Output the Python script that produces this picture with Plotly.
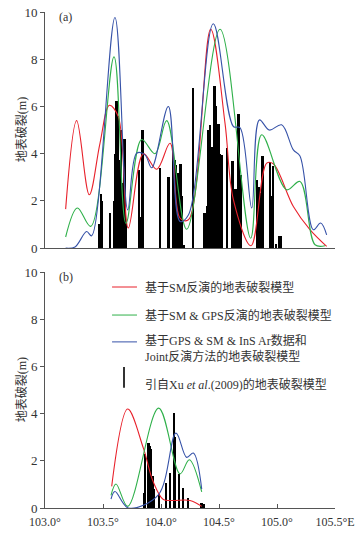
import plotly.graph_objects as go
from plotly.subplots import make_subplots

# panel (a): model curves (longitude, slip in m)
red_a_x = [103.178, 103.273, 103.382, 103.474, 103.555, 103.632, 103.718, 103.848, 103.963, 104.078,
           104.164, 104.236, 104.428, 104.552, 104.624, 104.776, 104.911, 104.968, 105.141, 105.284, 105.428]
red_a_y = [1.65, 5.40, 2.26, 4.44, 6.05, 5.57, 0.85, 4.00, 3.34, 4.44,
           1.27, 1.20, 9.27, 5.28, 2.05, 0.10, 3.60, 3.57, 1.76, 0.78, 0.07]

green_a_x = [103.178, 103.279, 103.394, 103.595, 103.698, 103.833, 103.948, 104.049, 104.221, 104.509,
             104.773, 104.868, 105.083, 105.198, 105.328, 105.414]
green_a_y = [0.47, 1.70, 0.92, 8.10, 1.05, 4.60, 4.00, 5.40, 0.80, 9.27,
             0.42, 4.80, 2.47, 2.82, 0.14, 0.10]

blue_a_x = [103.178, 103.259, 103.359, 103.402, 103.603, 103.713, 103.790, 103.862, 103.920, 104.063,
            104.164, 104.236, 104.451, 104.624, 104.681, 104.782, 104.848, 104.934, 105.040, 105.141,
            105.198, 105.313, 105.376, 105.428]
blue_a_y = [0.0, 0.05, 0.70, 0.52, 9.77, 1.62, 4.02, 3.95, 3.40, 6.00,
            1.13, 1.40, 9.50, 5.15, 5.10, 1.70, 5.43, 5.00, 5.22, 4.16,
            3.90, 0.78, 1.06, 0.56]

# panel (a): Xu et al. (2009) field measurements
xu_a_x = [103.468, 103.483, 103.491, 103.560, 103.595, 103.606, 103.618, 103.632, 103.647, 103.658,
          103.670, 103.687, 103.698, 103.813, 103.830, 103.842, 103.991, 104.066, 104.106, 104.118,
          104.129, 104.152, 104.170, 104.181, 104.201, 104.279, 104.376, 104.399, 104.411, 104.422,
          104.434, 104.445, 104.463, 104.474, 104.486, 104.497, 104.509, 104.526, 104.572, 104.618,
          104.635, 104.647, 104.670, 104.687, 104.830, 104.842, 104.853, 104.876, 104.940, 104.951,
          104.968, 104.991, 105.020, 105.032]
xu_a_y = [1.0, 2.3, 2.0, 1.5, 2.0, 4.0, 6.23, 5.6, 3.75, 5.0,
          2.75, 4.6, 1.05, 3.3, 1.3, 5.0, 3.4, 3.0, 4.1, 3.75,
          3.5, 3.2, 3.57, 2.2, 0.15, 6.77, 1.5, 1.8, 5.0, 5.2,
          4.3, 4.3, 6.87, 6.0, 5.15, 5.26, 4.0, 3.95, 4.23, 3.7,
          2.5, 2.5, 5.67, 3.1, 2.9, 2.6, 2.33, 3.9, 3.64, 2.2,
          3.46, 0.18, 0.52, 0.52]

# panel (b)
red_b_x = [103.575, 103.713, 103.848, 103.934, 104.020, 104.100, 104.250, 104.351]
red_b_y = [0.92, 4.20, 2.54, 1.10, 0.36, 0.32, 0.32, 0.07]

green_b_x = [103.569, 103.612, 103.713, 103.980, 104.164, 104.244, 104.351]
green_b_y = [0.54, 1.02, 0.07, 4.24, 1.45, 2.05, 0.68]

blue_b_x = [103.569, 103.603, 103.718, 103.977, 104.129, 104.221, 104.279, 104.351]
blue_b_y = [0.38, 0.70, 0.00, 0.56, 3.18, 2.15, 2.33, 0.80]

xu_b_x = [103.853, 103.865, 103.894, 103.905, 103.917, 103.928, 103.940, 103.985, 104.043, 104.078,
          104.115, 104.125, 104.158, 104.192, 104.235, 104.351, 104.371]
xu_b_y = [0.63, 2.26, 2.75, 2.6, 2.5, 1.34, 0.8, 0.56, 1.06, 1.48,
          4.02, 3.0, 1.41, 0.85, 0.42, 0.21, 0.17]

tick_vals = [103.0, 103.5, 104.0, 104.5, 105.0, 105.5]
tick_text = ['103.0°', '103.5°', '104.0°', '104.5°', '105.0°', '105.5°E']

RED = '#e8212b'
GREEN = '#2fb04a'
BLUE = '#3652a8'
AXIS = '#555555'
FONT = 'Liberation Serif, Noto Sans CJK SC, serif'

fig = make_subplots(rows=2, cols=1, vertical_spacing=0.05)

for row, (rx, ry, gx, gy, bx, by, kx, ky) in enumerate([
        (red_a_x, red_a_y, green_a_x, green_a_y, blue_a_x, blue_a_y, xu_a_x, xu_a_y),
        (red_b_x, red_b_y, green_b_x, green_b_y, blue_b_x, blue_b_y, xu_b_x, xu_b_y)], start=1):
    fig.add_trace(go.Bar(x=kx, y=ky, width=0.016, marker=dict(color='black', line_width=0),
                         showlegend=False), row=row, col=1)
    for xs, ys, c in [(rx, ry, RED), (gx, gy, GREEN), (bx, by, BLUE)]:
        fig.add_trace(go.Scatter(x=xs, y=ys, mode='lines', line=dict(color=c, width=1.1, shape='spline', smoothing=1),
                                 showlegend=False), row=row, col=1)

fig.update_layout(
    width=363, height=541,
    margin=dict(l=45, r=28, t=12, b=33, autoexpand=False),
    plot_bgcolor='white', paper_bgcolor='white',
    barmode='overlay', bargap=0,
    font=dict(family=FONT, size=12, color='#333333'),
)

fig.update_layout(
    yaxis=dict(domain=[0.524, 1.0]),
    yaxis2=dict(domain=[0.0, 0.475]),
)

for ax in ['xaxis', 'xaxis2']:
    fig.layout[ax].update(range=[103.0, 105.5], showgrid=False, zeroline=False, automargin=False,
                          showline=True, linecolor=AXIS, linewidth=1,
                          ticks='inside', ticklen=4, tickcolor=AXIS,
                          tickvals=tick_vals, ticktext=tick_text)
fig.layout.xaxis.update(tickvals=[105.5], showticklabels=False)
fig.layout.xaxis2.update(tickfont=dict(size=12), ticklabelstandoff=3)

for ax in ['yaxis', 'yaxis2']:
    fig.layout[ax].update(range=[0, 10], showgrid=False, zeroline=False, automargin=False,
                          showline=True, linecolor=AXIS, linewidth=1,
                          ticks='outside', ticklen=4, tickcolor=AXIS,
                          tickvals=[0, 2, 4, 6, 8, 10], tickfont=dict(size=13))

# y titles and panel labels
for yref, yc, lab in [('y', 5, '(a)'), ('y2', 5, '(b)')]:
    fig.add_annotation(xref='paper', yref=yref, x=-0.115, y=yc, text='地表破裂(m)', textangle=-90,
                       showarrow=False, font=dict(size=12, color='#333333'))
    fig.add_annotation(xref='x' if yref == 'y' else 'x2', yref=yref, x=103.1, y=9.8, text=lab,
                       xanchor='left', showarrow=False, font=dict(size=12, color='#333333'))

# legend drawn inside panel (b)
leg = [(9.38, RED, '基于SM反演的地表破裂模型'),
       (8.19, GREEN, '基于SM &amp; GPS反演的地表破裂模型'),
       (7.05, BLUE, None)]
for yv, c, txt in leg:
    fig.add_shape(type='line', xref='x2', yref='y2', x0=103.578, x1=103.793, y0=yv, y1=yv,
                  line=dict(color=c, width=1))
    if txt:
        fig.add_annotation(xref='x2', yref='y2', x=103.845, y=yv, text=txt, xanchor='left',
                           showarrow=False, font=dict(size=12, color='#333333'))
fig.add_annotation(xref='x2', yref='y2', x=103.845, y=6.77,
                   text='基于GPS &amp; SM &amp; InS Ar数据和<br>Joint反演方法的地表破裂模型',
                   xanchor='left', align='left', showarrow=False, font=dict(size=12, color='#333333'))
fig.add_shape(type='line', xref='x2', yref='y2', x0=103.681, x1=103.681, y0=5.10, y1=5.99,
              line=dict(color='#333333', width=2))
fig.add_annotation(xref='x2', yref='y2', x=103.845, y=5.23,
                   text='引自Xu <i>et al</i>.(2009)的地表破裂模型',
                   xanchor='left', showarrow=False, font=dict(size=12, color='#333333'))

fig.write_html("out.html", config={'displayModeBar': False},
               post_script="document.body.style.margin='0';")
